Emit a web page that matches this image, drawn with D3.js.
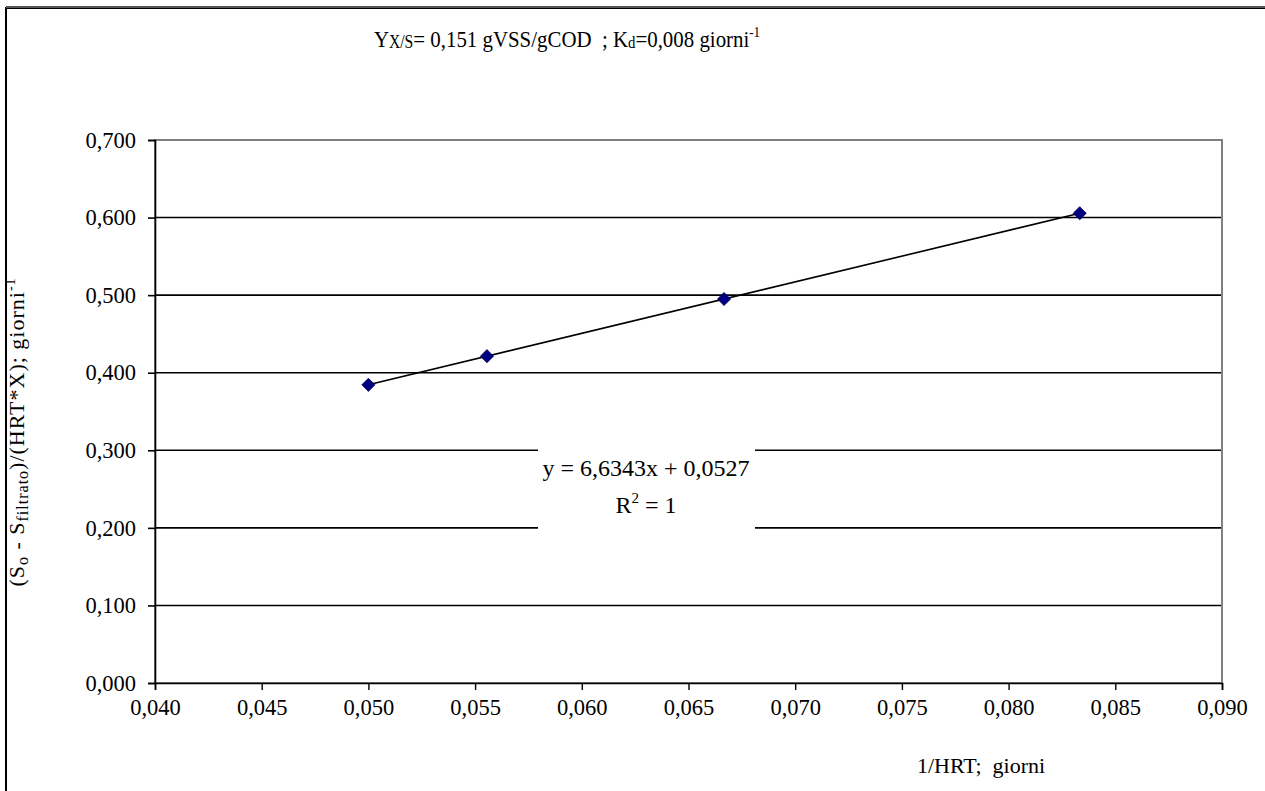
<!DOCTYPE html>
<html>
<head>
<meta charset="utf-8">
<script src="https://cdn.jsdelivr.net/npm/d3@7/dist/d3.min.js"></script>
<style>
  html, body { margin: 0; padding: 0; background: #fff; }
  svg text { font-family: "Liberation Serif", "DejaVu Serif", "Times New Roman", serif !important; fill: #000; }
</style>
</head>
<body>
<svg id="chart" width="1265" height="791"></svg>
<script>
// 1/HRT (giorni^-1) for HRT = 20, 18, 15, 12 giorni
const invHRT = [1 / 20, 1 / 18, 1 / 15, 1 / 12];
// (S0 - Sfiltrato)/(HRT*X)
const specificRate = [0.3844, 0.4213, 0.4950, 0.6056];
// Linear regression
const slope = 6.6343;
const intercept = 0.0527;
const xTicks = [0.040, 0.045, 0.050, 0.055, 0.060, 0.065, 0.070, 0.075, 0.080, 0.085, 0.090];
const yTicks = [0.0, 0.1, 0.2, 0.3, 0.4, 0.5, 0.6, 0.7];

const fmt = v => d3.format(".3f")(v).replace(".", ",");

const svg = d3.select("#chart");
const W = 1265, H = 791;
const m = { left: 155, right: 1222, top: 140, bottom: 683 };

const x = d3.scaleLinear().domain([0.04, 0.09]).range([m.left, m.right]);
const y = d3.scaleLinear().domain([0, 0.7]).range([m.bottom, m.top]);

// outer chart frame
svg.append("rect")
  .attr("x", 6).attr("y", 8).attr("width", W + 20).attr("height", H + 20)
  .attr("fill", "#fff").attr("stroke", "#000").attr("stroke-width", 2);
svg.append("line")
  .attr("x1", 6).attr("x2", W).attr("y1", 7).attr("y2", 7)
  .attr("stroke", "#555").attr("stroke-width", 2);

// horizontal gridlines
svg.append("g")
  .selectAll("line")
  .data(yTicks.filter(t => t > 0 && t < 0.7))
  .join("line")
  .attr("x1", m.left).attr("x2", m.right)
  .attr("y1", d => y(d)).attr("y2", d => y(d))
  .attr("stroke", "#000").attr("stroke-width", 1.6);

// plot area border
svg.append("rect")
  .attr("x", m.left).attr("y", m.top)
  .attr("width", m.right - m.left).attr("height", m.bottom - m.top)
  .attr("fill", "none").attr("stroke", "#808080").attr("stroke-width", 2);

// x axis
const xAxis = svg.append("g")
  .attr("transform", `translate(0,${m.bottom})`)
  .call(d3.axisBottom(x).tickValues(xTicks).tickFormat(fmt).tickSizeOuter(0).tickSize(7).tickPadding(9));
xAxis.select(".domain").attr("stroke", "#000").attr("stroke-width", 1.6);
xAxis.selectAll(".tick line").attr("stroke", "#000").attr("stroke-width", 1.4);
xAxis.selectAll(".tick text").attr("font-size", 22.5);

// y axis
const yAxis = svg.append("g")
  .attr("transform", `translate(${m.left},0)`)
  .call(d3.axisLeft(y).tickValues(yTicks).tickFormat(fmt).tickSizeOuter(0).tickSize(7).tickPadding(12));
yAxis.select(".domain").attr("stroke", "#000").attr("stroke-width", 1.6);
yAxis.selectAll(".tick line").attr("stroke", "#000").attr("stroke-width", 1.6);
yAxis.selectAll(".tick text").attr("font-size", 22.5);

// trendline over the data range
const xMin = d3.min(invHRT), xMax = d3.max(invHRT);
svg.append("line")
  .attr("x1", x(xMin)).attr("y1", y(slope * xMin + intercept))
  .attr("x2", x(xMax)).attr("y2", y(slope * xMax + intercept))
  .attr("stroke", "#000").attr("stroke-width", 1.6);

// data points (diamonds)
const diamond = d3.symbol().type(d3.symbolDiamond2).size(110);
svg.append("g")
  .selectAll("path")
  .data(invHRT.map((v, i) => [v, specificRate[i]]))
  .join("path")
  .attr("d", diamond)
  .attr("transform", d => `translate(${x(d[0])},${y(d[1])})`)
  .attr("fill", "#000080").attr("stroke", "#00005a").attr("stroke-width", 0.8);

// regression label
const lab = svg.append("g");
lab.append("rect")
  .attr("x", 538).attr("y", 442).attr("width", 217).attr("height", 95)
  .attr("fill", "#fff");
lab.append("text")
  .attr("x", 646).attr("y", 476).attr("text-anchor", "middle")
  .attr("font-size", 24)
  .text(`y = ${String(slope).replace(".", ",")}x + ${String(intercept).replace(".", ",")}`);
const r2 = lab.append("text")
  .attr("x", 646).attr("y", 513).attr("text-anchor", "middle")
  .attr("font-size", 24);
r2.append("tspan").text("R");
r2.append("tspan").attr("dy", -10).attr("font-size", 15).text("2");
r2.append("tspan").attr("dy", 10).text(" = 1");

// chart title (slightly condensed)
const title = svg.append("text")
  .attr("transform", "translate(567,47) scale(0.87,1)")
  .attr("text-anchor", "middle")
  .attr("font-size", 24).attr("xml:space", "preserve");
title.append("tspan").text("Y");
title.append("tspan").attr("font-size", 18).attr("dy", 1).text("X/S");
title.append("tspan").attr("dy", -1).text("= 0,151 gVSS/gCOD  ; K");
title.append("tspan").attr("font-size", 17).attr("dy", 1).text("d");
title.append("tspan").attr("dy", -1).text("=0,008 giorni");
title.append("tspan").attr("font-size", 15).attr("dy", -10).text("-1");

// x axis title
svg.append("text")
  .attr("x", 981).attr("y", 773).attr("text-anchor", "middle")
  .attr("font-size", 22).attr("xml:space", "preserve")
  .text("1/HRT;  giorni");

// y axis title
const yt = svg.append("text")
  .attr("transform", "translate(24,432) rotate(-90)")
  .attr("text-anchor", "middle").attr("font-size", 22).attr("letter-spacing", 1);
yt.append("tspan").text("(S");
yt.append("tspan").attr("font-size", 16).attr("dy", 4).text("o");
yt.append("tspan").attr("dy", -4).text(" - S");
yt.append("tspan").attr("font-size", 16).attr("dy", 4).text("filtrato");
yt.append("tspan").attr("dy", -4).text(")/(HRT*X); giorni");
yt.append("tspan").attr("font-size", 14).attr("dy", -9).text("-1");
</script>
</body>
</html>
